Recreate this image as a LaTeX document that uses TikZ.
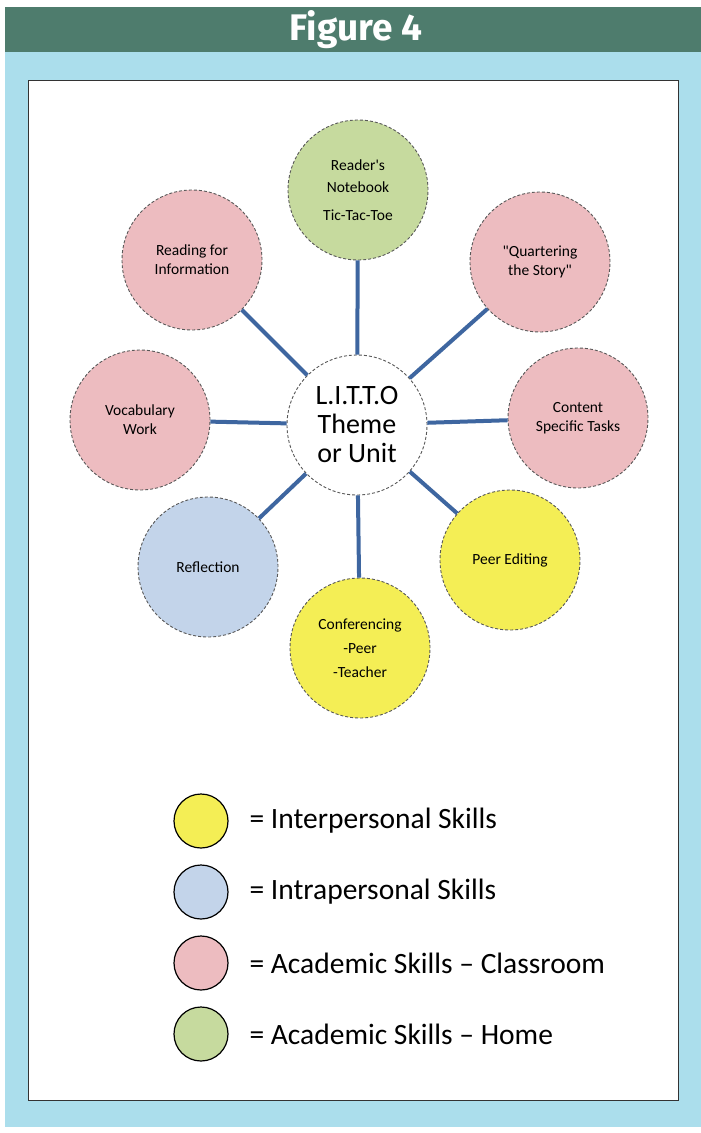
\documentclass[tikz,border=0pt]{standalone}
\usepackage{fontspec}
\setmainfont{Carlito}[Ligatures=TeXOff]
\newfontfamily\headfont{Fira Sans}
\begin{document}
\begin{tikzpicture}[x=1pt,y=-1pt,
  skill/.style={circle, minimum size=140pt, inner sep=0pt, draw=black!65,
    densely dashed, line width=0.9pt, align=center, font=\fontsize{15.5}{19}\selectfont},
  classroom/.style={skill, fill=pinkfill},
  home/.style={skill, fill=greenfill},
  inter/.style={skill, fill=yellowfill},
  intra/.style={skill, fill=bluefill},
  hub/.style={skill, fill=white, font=\fontsize{28}{29}\selectfont},
  spoke/.style={draw=spokeblue, line width=4pt},
  key/.style={circle, minimum size=54pt, inner sep=0pt, draw=black, line width=1.2pt},
  keytext/.style={anchor=west, font=\fontsize{29.5}{34}\selectfont}]
\definecolor{headgreen}{HTML}{4E7C6D}
\definecolor{panelblue}{HTML}{ABDEEC}
\definecolor{pinkfill}{HTML}{EDBCC0}
\definecolor{greenfill}{HTML}{C6DA9E}
\definecolor{yellowfill}{HTML}{F4EE55}
\definecolor{bluefill}{HTML}{C3D4EA}
\definecolor{spokeblue}{HTML}{3E66A0}
\useasboundingbox (0,0) rectangle (701,1133);
\fill[white] (0,0) rectangle (701,1133);
% panel, title band and white card
\fill[panelblue] (5,52) rectangle (701,1127);
\fill[headgreen] (5,7) rectangle (701,52);
\node[text=white, font=\headfont\bfseries\fontsize{37}{40}\selectfont] (title) at (356,30) {Figure 4};
\draw[fill=white, draw=black!80, line width=0.8pt] (28,80) rectangle (678,1100);

% hub and skill circles
\node[hub] (hub) at (357,425) {L.I.T.T.O\\Theme\\or Unit};
\node[home] (notebook) at (358,190) {Reader's\\[3pt]Notebook\\[9pt]Tic-Tac-Toe};
\node[classroom] (quarter) at (540,262) {"Quartering\\the Story"};
\node[classroom] (content) at (578,418) {Content\\Specific Tasks};
\node[inter] (editing) at (510,560) {Peer Editing};
\node[inter] (confer) at (360,648) {Conferencing\\[5pt]-Peer\\[5pt]-Teacher};
\node[intra] (reflect) at (208,567) {Reflection};
\node[classroom] (vocab) at (140,420) {Vocabulary\\Work};
\node[classroom] (reading) at (192,260) {Reading for\\Information};

% spokes
\foreach \n in {notebook,quarter,content,editing,confer,reflect,vocab,reading}
  \draw[spoke] (hub) -- (\n);

% legend
\node[key, fill=yellowfill] (k1) at (201,821) {};
\node[key, fill=bluefill] (k2) at (201,892) {};
\node[key, fill=pinkfill] (k3) at (201,963) {};
\node[key, fill=greenfill] (k4) at (201,1034) {};
\node[keytext] (t1) at (246,821) {= Interpersonal Skills};
\node[keytext] (t2) at (246,892) {= Intrapersonal Skills};
\node[keytext] (t3) at (246,963) {= Academic Skills – Classroom};
\node[keytext] (t4) at (246,1034) {= Academic Skills – Home};
\end{tikzpicture}
\end{document}
